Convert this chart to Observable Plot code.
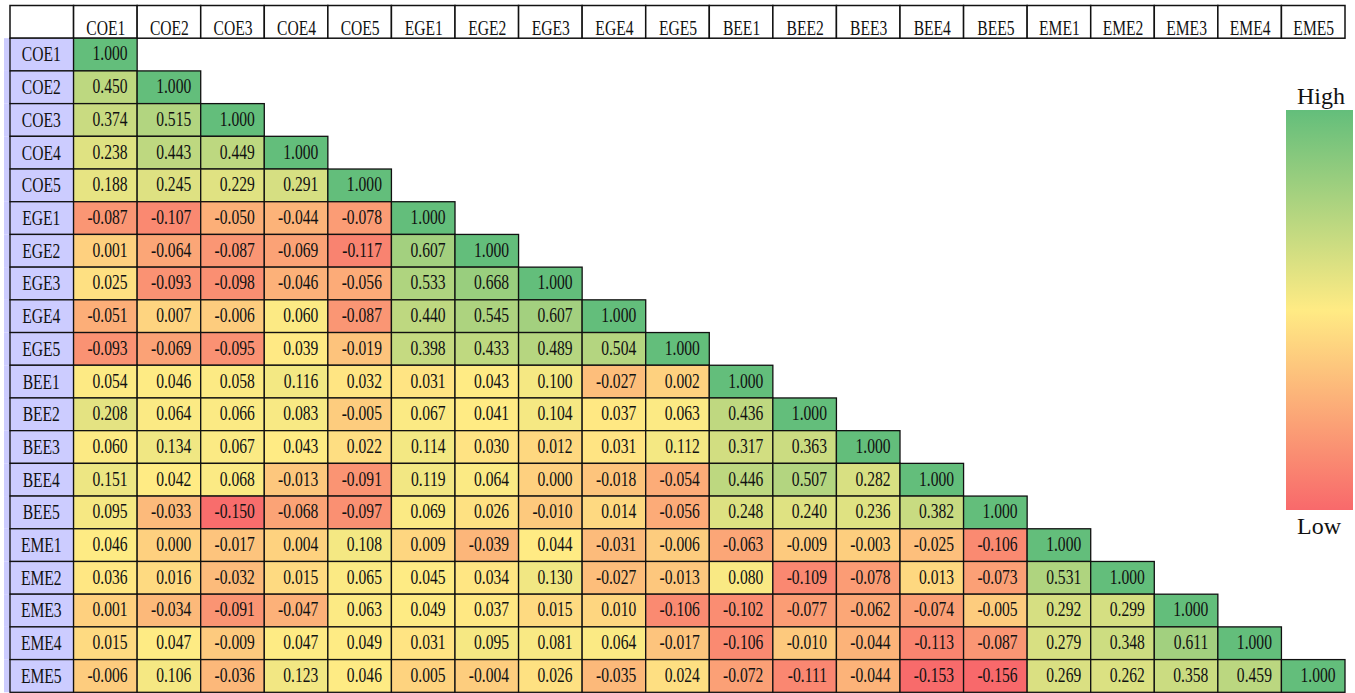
<!DOCTYPE html>
<html>
<head>
<meta charset="utf-8">
<script src="https://cdn.jsdelivr.net/npm/d3@7"></script>
<script src="https://cdn.jsdelivr.net/npm/@observablehq/plot@0.6"></script>
<style>
  html, body { margin: 0; padding: 0; background: #fff; }
  #wrap { position: relative; width: 1355px; height: 693px; overflow: hidden; font-family: "Liberation Serif", "Times New Roman", serif; }
  #legend-bar { position: absolute; left: 1286px; top: 110px; width: 67px; height: 400px;
    background: linear-gradient(to bottom, #63BE7B 0%, #FFEB84 50%, #F8696B 100%); }
  .lg { position: absolute; width: 100px; text-align: center; font-size: 24px; line-height: 24px; color: #111; }
</style>
</head>
<body>
<div id="wrap"></div>
<script>
const vars = ["COE1","COE2","COE3","COE4","COE5","EGE1","EGE2","EGE3","EGE4","EGE5",
              "BEE1","BEE2","BEE3","BEE4","BEE5","EME1","EME2","EME3","EME4","EME5"];

// lower-triangle correlation values, row by row (row i has i+1 values)
const COE1 = [1.000];
const COE2 = [0.450, 1.000];
const COE3 = [0.374, 0.515, 1.000];
const COE4 = [0.238, 0.443, 0.449, 1.000];
const COE5 = [0.188, 0.245, 0.229, 0.291, 1.000];
const EGE1 = [-0.087, -0.107, -0.050, -0.044, -0.078, 1.000];
const EGE2 = [0.001, -0.064, -0.087, -0.069, -0.117, 0.607, 1.000];
const EGE3 = [0.025, -0.093, -0.098, -0.046, -0.056, 0.533, 0.668, 1.000];
const EGE4 = [-0.051, 0.007, -0.006, 0.060, -0.087, 0.440, 0.545, 0.607, 1.000];
const EGE5 = [-0.093, -0.069, -0.095, 0.039, -0.019, 0.398, 0.433, 0.489, 0.504, 1.000];
const BEE1 = [0.054, 0.046, 0.058, 0.116, 0.032, 0.031, 0.043, 0.100, -0.027, 0.002, 1.000];
const BEE2 = [0.208, 0.064, 0.066, 0.083, -0.005, 0.067, 0.041, 0.104, 0.037, 0.063, 0.436, 1.000];
const BEE3 = [0.060, 0.134, 0.067, 0.043, 0.022, 0.114, 0.030, 0.012, 0.031, 0.112, 0.317, 0.363, 1.000];
const BEE4 = [0.151, 0.042, 0.068, -0.013, -0.091, 0.119, 0.064, 0.000, -0.018, -0.054, 0.446, 0.507, 0.282, 1.000];
const BEE5 = [0.095, -0.033, -0.150, -0.068, -0.097, 0.069, 0.026, -0.010, 0.014, -0.056, 0.248, 0.240, 0.236, 0.382, 1.000];
const EME1 = [0.046, 0.000, -0.017, 0.004, 0.108, 0.009, -0.039, 0.044, -0.031, -0.006, -0.063, -0.009, -0.003, -0.025, -0.106, 1.000];
const EME2 = [0.036, 0.016, -0.032, 0.015, 0.065, 0.045, 0.034, 0.130, -0.027, -0.013, 0.080, -0.109, -0.078, 0.013, -0.073, 0.531, 1.000];
const EME3 = [0.001, -0.034, -0.091, -0.047, 0.063, 0.049, 0.037, 0.015, 0.010, -0.106, -0.102, -0.077, -0.062, -0.074, -0.005, 0.292, 0.299, 1.000];
const EME4 = [0.015, 0.047, -0.009, 0.047, 0.049, 0.031, 0.095, 0.081, 0.064, -0.017, -0.106, -0.010, -0.044, -0.113, -0.087, 0.279, 0.348, 0.611, 1.000];
const EME5 = [-0.006, 0.106, -0.036, 0.123, 0.046, 0.005, -0.004, 0.026, -0.035, 0.024, -0.072, -0.111, -0.044, -0.153, -0.156, 0.269, 0.262, 0.358, 0.459, 1.000];

const rowsData = [COE1,COE2,COE3,COE4,COE5,EGE1,EGE2,EGE3,EGE4,EGE5,
                  BEE1,BEE2,BEE3,BEE4,BEE5,EME1,EME2,EME3,EME4,EME5];

const cells = [];
rowsData.forEach((vals, i) => vals.forEach((v, j) => cells.push({row: vars[i], col: vars[j], v})));

const vmin = d3.min(cells, d => d.v);
const vmax = d3.max(cells, d => d.v);
const vmid = d3.median(cells, d => d.v);

const LBL = "lbl", HDR = "hdr";
const font = "Liberation Serif, Times New Roman, serif";

const plot = Plot.plot({
  width: 1355,
  height: 693,
  marginTop: 5.5,
  marginBottom: 0.7,
  marginLeft: 10,
  marginRight: 10,
  style: {background: "white", fontFamily: font, overflow: "visible"},
  x: {type: "band", domain: [LBL, ...vars], padding: 0, round: false, axis: null},
  y: {type: "band", domain: [HDR, ...vars], padding: 0, round: false, axis: null},
  color: {type: "linear", domain: [vmin, vmid, vmax], range: ["#F8696B", "#FFEB84", "#63BE7B"], interpolate: "rgb"},
  marks: [
    // lavender strip behind row labels
    Plot.cell(vars, {x: () => LBL, y: d => d, fill: "#CCCCFF", insetLeft: -6}),
    // header row
    Plot.cell([LBL, ...vars], {x: d => d, y: () => HDR, fill: "white", stroke: "#111", strokeWidth: 1.5}),
    Plot.text(vars, {x: d => d, y: () => HDR, text: d => d, fontSize: 20, dy: 6, fill: "#111"}),
    // row labels
    Plot.cell(vars, {x: () => LBL, y: d => d, fill: "#CCCCFF", stroke: "#111", strokeWidth: 1.3}),
    Plot.text(vars, {x: () => LBL, y: d => d, text: d => d, fontSize: 20, dx: -1, fill: "#111"}),
    // correlation cells
    Plot.cell(cells, {x: "col", y: "row", fill: "v", stroke: "#111", strokeWidth: 1.3}),
    Plot.text(cells, {x: "col", y: "row", text: d => d.v.toFixed(3), fontSize: 20, textAnchor: "end", dx: 21.8, dy: -1, fill: "#111"})
  ]
});

const wrap = document.getElementById("wrap");
wrap.appendChild(plot);

// horizontally condensed text like the reference: scale about each text's anchor point
d3.select(plot).selectAll("text").each(function() {
  const t = this.getAttribute("transform") || "";
  this.setAttribute("transform", (t + " scale(0.78,1)").trim());
});

// legend
const bar = document.createElement("div");
bar.id = "legend-bar";
wrap.appendChild(bar);
const hi = document.createElement("div");
hi.className = "lg"; hi.textContent = "High";
hi.style.left = "1271px"; hi.style.top = "84px";
wrap.appendChild(hi);
const lo = document.createElement("div");
lo.className = "lg"; lo.textContent = "Low";
lo.style.left = "1269px"; lo.style.top = "514px";
wrap.appendChild(lo);
</script>
</body>
</html>
